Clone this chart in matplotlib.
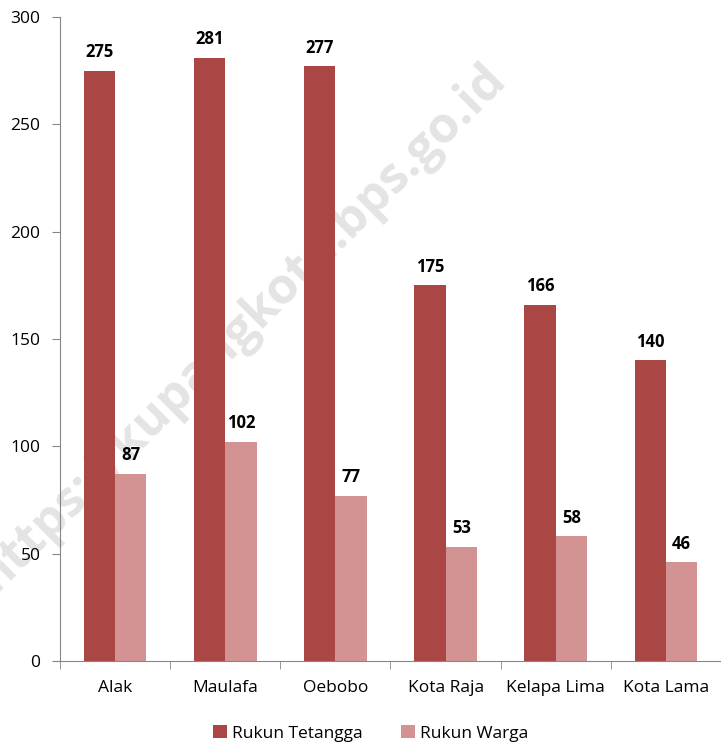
import numpy as np
import matplotlib.pyplot as plt

plt.rcParams['font.family'] = ['Open Sans', 'DejaVu Sans']

kelurahan = ['Alak', 'Maulafa', 'Oebobo', 'Kota Raja', 'Kelapa Lima', 'Kota Lama']
rukun_tetangga = [275, 281, 277, 175, 166, 140]
rukun_warga = [87, 102, 77, 53, 58, 46]
series_names = ['Rukun Tetangga', 'Rukun Warga']
colors = ['#AA4644', '#D49393']

fig = plt.figure(figsize=(7.21, 7.42), dpi=100)
ax = fig.add_axes([0.0832, 0.1092, 0.9168, 0.8679])
ax.set_facecolor('none')

# watermark, sits behind the axes
fig.text(0.335, 0.558, 'https://kupangkota.bps.go.id', rotation=45, ha='center', va='center',
         fontsize=36, fontweight='bold', color='#E4E4E4', zorder=-1)

x = np.arange(len(kelurahan))
w = 0.285
b1 = ax.bar(x - w / 2, rukun_tetangga, w, color=colors[0], label=series_names[0], zorder=2)
b2 = ax.bar(x + w / 2, rukun_warga, w, color=colors[1], label=series_names[1], zorder=2)

for bars in (b1, b2):
    for r in bars:
        ax.annotate(f'{int(r.get_height())}', (r.get_x() + r.get_width() / 2, r.get_height()),
                    xytext=(0, 7), textcoords='offset points', ha='center', va='bottom',
                    fontsize=12, fontweight='bold', color='black')

ax.set_xlim(-0.5, len(kelurahan) - 0.5)
ax.set_ylim(0, 300)
ax.set_yticks(range(0, 301, 50))
ax.set_xticks(x)
ax.set_xticklabels(kelurahan)
ax.set_xticks(np.arange(-0.5, len(kelurahan)), minor=True)
ax.tick_params(axis='x', which='major', length=0, pad=14, labelsize=12.5)
ax.tick_params(axis='x', which='minor', length=6, color='#868686')
ax.tick_params(axis='y', length=6, color='#868686', labelsize=12.5, pad=8)

for s in ['top', 'right']:
    ax.spines[s].set_visible(False)
for s in ['left', 'bottom']:
    ax.spines[s].set_color('#868686')

ax.legend(loc='upper center', bbox_to_anchor=(0.47, -0.075), ncol=2, frameon=False,
          fontsize=12.5, handlelength=0.8, handleheight=0.8, handletextpad=0.3, columnspacing=2.2)

fig.savefig('out.png', dpi=100)
